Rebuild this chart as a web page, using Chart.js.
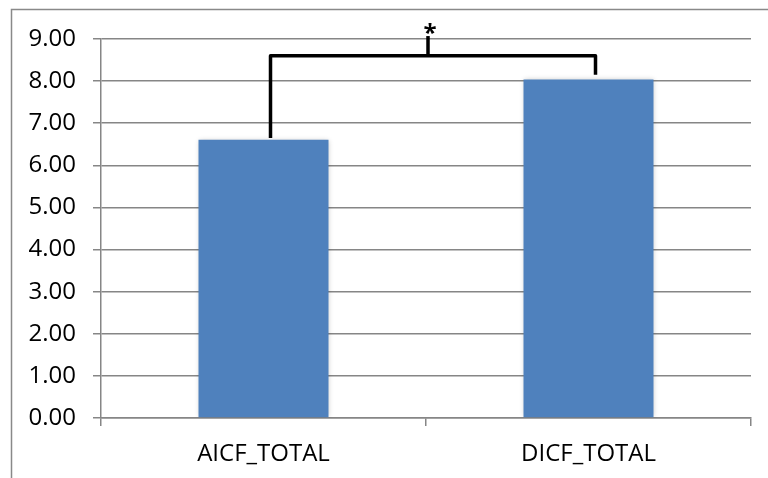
<!DOCTYPE html>
<html>
<head>
<meta charset="utf-8">
<script src="https://cdn.jsdelivr.net/npm/chart.js@4/dist/chart.umd.min.js"></script>
<style>
  html, body { margin: 0; padding: 0; background: #fff; }
  #wrap { width: 768px; height: 478px; position: relative; }
</style>
</head>
<body>
<div id="wrap"><canvas id="chart"></canvas></div>
<script>
// valores
const categorias = ['AICF_TOTAL', 'DICF_TOTAL'];
const medias = [6.61, 8.04];
const yTicks = [0, 1, 2, 3, 4, 5, 6, 7, 8, 9];

// anotación de significancia (en unidades del eje y)
const llaveExtremos = [6.65, 8.15];
const llaveNivel = 8.60;
const llaveCima = 9.07;
const llaveTexto = '*';

const GRIS = '#868686';
const FUENTE = "'Open Sans', 'Noto Sans', sans-serif";

// marco exterior recortado (arriba e izquierda)
const marcoPlugin = {
    id: 'marco',
    afterDraw(chart) {
        const ctx = chart.ctx;
        ctx.save();
        ctx.strokeStyle = '#898989';
        ctx.lineWidth = 1.5;
        ctx.beginPath();
        ctx.moveTo(11.5, chart.height);
        ctx.lineTo(11.5, 9.5);
        ctx.lineTo(chart.width, 9.5);
        ctx.stroke();
        ctx.restore();
    }
};

// sombra suave en las barras
const sombraPlugin = {
    id: 'sombra',
    beforeDatasetsDraw(chart) {
        const ctx = chart.ctx;
        ctx.save();
        ctx.shadowColor = 'rgba(0,0,0,0.22)';
        ctx.shadowBlur = 5;
        ctx.shadowOffsetX = 0;
        ctx.shadowOffsetY = 0;
    },
    afterDatasetsDraw(chart) {
        chart.ctx.restore();
    }
};

// llave con asterisco entre las dos barras
const llavePlugin = {
    id: 'llave',
    afterDatasetsDraw(chart) {
        const { ctx, scales: { x, y } } = chart;
        const dx = 7;
        const x0 = x.getPixelForValue(0) + dx;
        const x1 = x.getPixelForValue(1) + dx;
        const xm = x.getPixelForValue(0.5) + 2;
        const yNivel = y.getPixelForValue(llaveNivel);
        ctx.save();
        ctx.strokeStyle = '#000';
        ctx.lineWidth = 3.5;
        ctx.lineJoin = 'round';
        ctx.beginPath();
        ctx.moveTo(x0, y.getPixelForValue(llaveExtremos[0]));
        ctx.lineTo(x0, yNivel);
        ctx.lineTo(x1, yNivel);
        ctx.lineTo(x1, y.getPixelForValue(llaveExtremos[1]));
        ctx.stroke();
        ctx.beginPath();
        ctx.moveTo(xm, yNivel);
        ctx.lineTo(xm, y.getPixelForValue(llaveCima));
        ctx.stroke();
        ctx.fillStyle = '#000';
        ctx.font = 'bold 24px ' + FUENTE;
        ctx.textAlign = 'center';
        ctx.textBaseline = 'bottom';
        ctx.fillText(llaveTexto, xm + 2, y.getPixelForValue(llaveCima) + 10);
        ctx.restore();
    }
};

const ctx = document.getElementById('chart').getContext('2d');
new Chart(ctx, {
    type: 'bar',
    data: {
        labels: categorias,
        datasets: [{
            data: medias,
            backgroundColor: '#4f81bd',
            borderWidth: 0,
            barPercentage: 0.4,
            categoryPercentage: 1
        }]
    },
    options: {
        responsive: true,
        maintainAspectRatio: false,
        animation: false,
        events: [],
        layout: { padding: { top: 39, right: 17, left: 0, bottom: 0 } },
        plugins: {
            legend: { display: false },
            tooltip: { enabled: false }
        },
        scales: {
            x: {
                afterFit(scale) { scale.height = 60; },
                grid: {
                    offset: true,
                    drawOnChartArea: false,
                    color: GRIS,
                    lineWidth: 1.5,
                    tickLength: 8
                },
                border: { color: GRIS, width: 1.5 },
                ticks: {
                    color: '#000',
                    padding: 14,
                    font: { family: FUENTE, size: 24 }
                }
            },
            y: {
                min: 0,
                max: 9,
                afterFit(scale) { scale.width = 101; },
                afterBuildTicks(scale) { scale.ticks = yTicks.map(v => ({ value: v })); },
                grid: {
                    color: GRIS,
                    lineWidth: 1.5,
                    tickLength: 8
                },
                border: { color: GRIS, width: 1.5 },
                ticks: {
                    color: '#000',
                    padding: 17,
                    font: { family: FUENTE, size: 24 },
                    callback: v => Number(v).toFixed(2)
                }
            }
        }
    },
    plugins: [marcoPlugin, sombraPlugin, llavePlugin]
});
</script>
</body>
</html>
